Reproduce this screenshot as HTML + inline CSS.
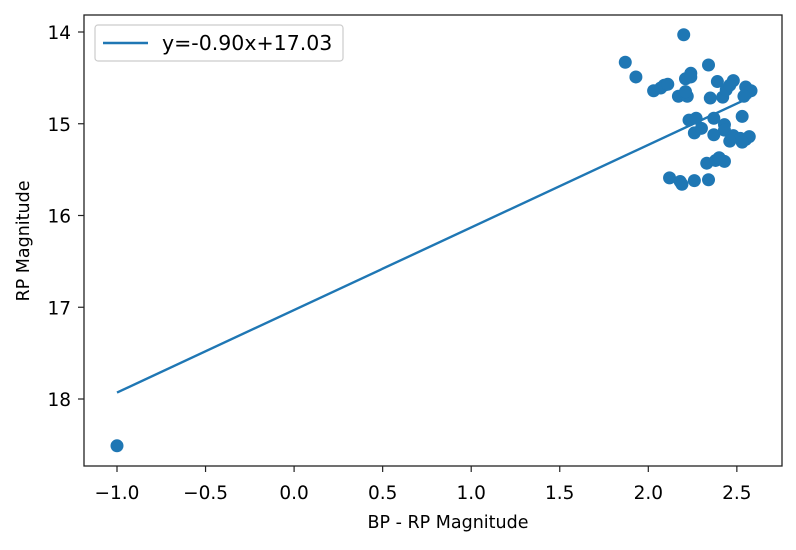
<!DOCTYPE html>
<html><head><meta charset="utf-8"><style>
body{margin:0;background:#fff;}
svg{font-family:"DejaVu Sans","Liberation Sans",sans-serif;}
</style></head><body>
<svg id="chart" width="796" height="545">
<rect x="0" y="0" width="796" height="545" fill="#fff"/>
<g id="marks"></g>
<g id="axes"></g>
</svg>
<script>
const xValues=[2.20,1.87,1.93,2.34,2.24,2.03,2.07,2.09,2.11,2.21,2.24,2.17,2.22,2.21,2.39,2.48,2.55,2.58,2.35,2.42,2.44,2.54,2.46,2.26,2.30,2.23,2.27,2.37,2.43,2.43,2.48,2.55,2.52,2.57,2.37,2.46,2.53,2.33,2.38,2.43,2.40,2.12,2.18,2.19,2.26,2.34,2.53,-1.0];
const yValues=[14.03,14.33,14.49,14.36,14.45,14.64,14.61,14.58,14.57,14.51,14.49,14.70,14.70,14.65,14.54,14.53,14.60,14.64,14.72,14.71,14.63,14.70,14.58,15.10,15.05,14.96,14.94,14.94,15.01,15.07,15.13,15.17,15.16,15.14,15.12,15.19,15.20,15.43,15.40,15.41,15.37,15.59,15.63,15.66,15.62,15.61,14.92,18.51];
const slope=-0.90, intercept=17.03;
const fitRange=[-1.0,2.58];
const xTicks=[-1.0,-0.5,0.0,0.5,1.0,1.5,2.0,2.5];
const yTicks=[14,15,16,17,18];
const NS="http://www.w3.org/2000/svg";
const L=84,R=782,T=15,B=466;
function sx(v){return 294.1+v*177.1;}
function sy(v){return 32+(v-14)*91.75;}
function mk(t,a,p){const e=document.createElementNS(NS,t);for(const k in a)e.setAttribute(k,a[k]);p.appendChild(e);return e;}
const marks=document.getElementById('marks'),axes=document.getElementById('axes');
const line=mk('line',{x1:sx(fitRange[0]),y1:sy(slope*fitRange[0]+intercept),x2:sx(fitRange[1]),y2:sy(slope*fitRange[1]+intercept),stroke:'#1f77b4','stroke-width':2.4},marks);


for(let i=0;i<xValues.length;i++){
 const c=mk('circle',{cx:sx(xValues[i]),cy:sy(yValues[i]),r:6.5,fill:'#1f77b4'},marks);
 
 
}
const frame=mk('rect',{x:L,y:T,width:R-L,height:B-T,fill:'none',stroke:'#222','stroke-width':1.3},axes);


xTicks.forEach(v=>{
 const x=sx(v);
 mk('line',{x1:x,y1:B,x2:x,y2:B+6,stroke:'#222','stroke-width':1.2},axes);
 const t=mk('text',{x:x,y:499,'text-anchor':'middle','font-size':18.5},axes);
 t.textContent=v.toFixed(1).replace('-','\u2212');
 
 
});
yTicks.forEach(v=>{
 const y=sy(v);
 mk('line',{x1:L,y1:y,x2:L-6,y2:y,stroke:'#222','stroke-width':1.2},axes);
 const t=mk('text',{x:L-13,y:y+7,'text-anchor':'end','font-size':18.5},axes);
 t.textContent=v;
 
 
});
const xl=mk('text',{x:(L+R)/2+15,y:528,'text-anchor':'middle','font-size':17.5},axes);
xl.textContent='BP - RP Magnitude';


const yl=mk('text',{x:29,y:241,'text-anchor':'middle','font-size':17.5,transform:'rotate(-90 29 241)'},axes);
yl.textContent='RP Magnitude';


const lg=mk('g',{},axes);


mk('rect',{x:95,y:25,width:248,height:36,rx:3,fill:'#fff',stroke:'#ccc','stroke-width':1.2},lg);
mk('line',{x1:103,y1:43,x2:148,y2:43,stroke:'#1f77b4','stroke-width':2.4},lg);
const lt=mk('text',{x:162,y:50,'font-size':20.5},lg);
lt.textContent='y=-0.90x+17.03';


</script>
</body></html>
